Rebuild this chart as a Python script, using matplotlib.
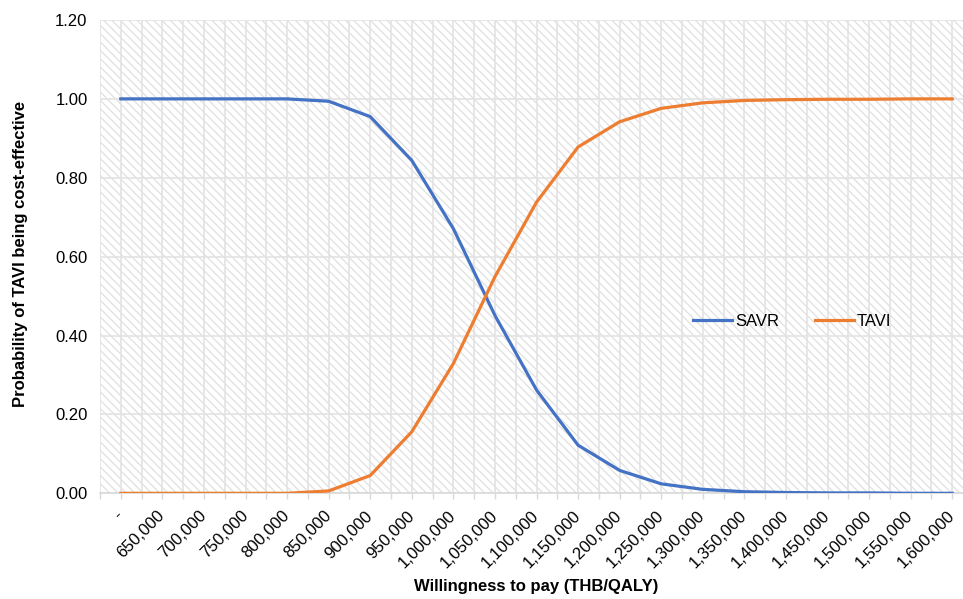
import matplotlib
matplotlib.use("Agg")
import matplotlib.pyplot as plt
from matplotlib.patches import Rectangle
from matplotlib.ticker import FixedLocator, FuncFormatter

plt.rcParams['font.family'] = ['Liberation Sans', 'DejaVu Sans']
plt.rcParams['hatch.linewidth'] = 0.9
plt.rcParams['hatch.color'] = '#e0e0e0'

categories = ["-", "650,000", "700,000", "750,000", "800,000", "850,000", "900,000",
              "950,000", "1,000,000", "1,050,000", "1,100,000", "1,150,000", "1,200,000",
              "1,250,000", "1,300,000", "1,350,000", "1,400,000", "1,450,000", "1,500,000",
              "1,550,000", "1,600,000"]
savr = [1.000, 1.000, 1.000, 1.000, 1.000, 0.994, 0.955, 0.844, 0.671, 0.451, 0.262,
        0.122, 0.058, 0.024, 0.010, 0.004, 0.002, 0.001, 0.001, 0.000, 0.000]
tavi = [0.000, 0.000, 0.000, 0.000, 0.000, 0.006, 0.045, 0.156, 0.329, 0.549, 0.738,
        0.878, 0.942, 0.976, 0.990, 0.996, 0.998, 0.999, 0.999, 1.000, 1.000]
yticks = [0.0, 0.2, 0.4, 0.6, 0.8, 1.0, 1.2]

W, H = 963, 599
fig = plt.figure(figsize=(W / 100, H / 100), dpi=100)
left, right, top, bottom = 100, 973, 20, 493.3
ax = fig.add_axes([left / W, 1 - bottom / H, (right - left) / W, (bottom - top) / H])

x = list(range(len(categories)))
ax.set_xlim(-0.5, len(categories) - 0.5)
ax.set_ylim(0, 1.2)

bg = Rectangle((0, 0), 1, 1, transform=ax.transAxes, facecolor='white',
               edgecolor='#e0e0e0', hatch='\\\\\\\\', lw=0, zorder=0)
ax.add_patch(bg)
ax.set_facecolor('white')

ax.plot(x, savr, color='#4472C4', lw=2.3, label='SAVR', zorder=3, solid_joinstyle='round')
ax.plot(x, tavi, color='#ED7D31', lw=2.3, label='TAVI', zorder=3, solid_joinstyle='round')

ax.xaxis.set_major_locator(FixedLocator(x))
ax.xaxis.set_minor_locator(FixedLocator([i - 0.5 for i in range(len(categories) + 1)]))
ax.set_xticklabels(categories, rotation=45, ha='right', va='center', rotation_mode='anchor',
                   fontsize=12)
ax.set_yticks(yticks)
ax.yaxis.set_major_formatter(FuncFormatter(lambda v, p: f"{v:.2f}"))
ax.tick_params(axis='y', length=0, pad=9, labelsize=12, labelcolor='#000000')
ax.tick_params(axis='x', which='both', length=4, color='#d9d9d9', width=1, pad=10.5)

ax.grid(True, which='major', axis='both', color='#e3e3e3', lw=1.2, zorder=1)
ax.grid(True, which='minor', axis='x', color='#e3e3e3', lw=1.2, zorder=1)
ax.set_axisbelow(True)

for s in ['top', 'right', 'left']:
    ax.spines[s].set_visible(False)
ax.spines['bottom'].set_color('#d9d9d9')
ax.spines['bottom'].set_linewidth(1.2)

fig.text(536 / W, 1 - 587 / H, 'Willingness to pay (THB/QALY)', ha='center', va='center',
         fontsize=12, fontweight='bold')
fig.text(20.5 / W, 1 - 254 / H, 'Probability of TAVI being cost-effective', ha='center',
         va='center', rotation=90, fontsize=12, fontweight='bold')

ax.legend(loc='center left', bbox_to_anchor=(693 / W, 1 - 321 / H),
          bbox_transform=fig.transFigure, ncol=2, frameon=False, fontsize=12,
          handlelength=2.35, handletextpad=0.2, columnspacing=2.1, borderpad=0,
          borderaxespad=0)

fig.savefig('out.png', dpi=100)
